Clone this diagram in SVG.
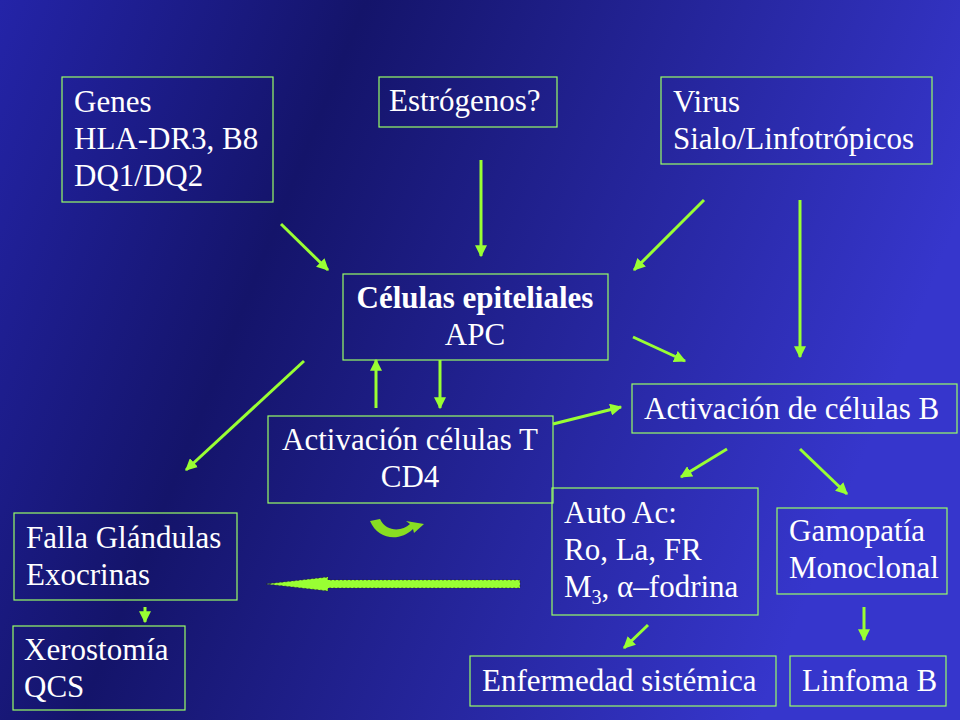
<svg xmlns="http://www.w3.org/2000/svg" width="960" height="720" viewBox="0 0 960 720">
<defs>
<linearGradient id="bg" x1="0" y1="0" x2="1" y2="0.3">
<stop offset="0" stop-color="#2424a8"/>
<stop offset="0.35" stop-color="#14146a"/>
<stop offset="1" stop-color="#3636cc"/>
</linearGradient>
<marker id="ah" viewBox="0 0 10 10" refX="9" refY="5" markerWidth="4" markerHeight="4" orient="auto"><path d="M0,0 L10,5 L0,10 z" fill="#99ff33"/></marker>
</defs>
<style>
.b{fill:none;stroke:#99ff66;stroke-width:1.2}
text{font-family:"Liberation Serif","Times New Roman",serif;font-size:31px;fill:#ffffff}
.c{text-anchor:middle}
.a{stroke:#99ff33;stroke-width:3;fill:none;marker-end:url(#ah)}
</style>
<rect width="960" height="720" fill="url(#bg)"/>
<g id="genes"><rect class="b" x="62" y="77" width="211" height="125"/><text x="74" y="112">Genes</text><text x="74" y="149">HLA-DR3, B8</text><text x="74" y="186">DQ1/DQ2</text></g>
<g id="estrogenos"><rect class="b" x="379" y="77" width="178" height="50"/><text x="389" y="111">Estrógenos?</text></g>
<g id="virus"><rect class="b" x="661" y="77" width="271" height="87"/><text x="673" y="112">Virus</text><text x="673" y="149">Sialo/Linfotrópicos</text></g>
<g id="celulas"><rect class="b" x="343" y="274" width="265" height="86"/><text class="c" x="475" y="308" font-weight="bold">Células epiteliales</text><text class="c" x="475" y="345">APC</text></g>
<g id="actB"><rect class="b" x="632" y="384" width="325" height="49"/><text x="644" y="419">Activación de células B</text></g>
<g id="actT"><rect class="b" x="268" y="416" width="285" height="87"/><text class="c" x="410" y="450">Activación células T</text><text class="c" x="410" y="487">CD4</text></g>
<g id="falla"><rect class="b" x="14" y="513" width="223" height="87"/><text x="26" y="548">Falla Glándulas</text><text x="26" y="585">Exocrinas</text></g>
<g id="autoac"><rect class="b" x="552" y="488" width="206" height="127"/><text x="564" y="523">Auto Ac:</text><text x="564" y="560">Ro, La, FR</text><text x="564" y="597">M<tspan font-size="20" dy="7">3</tspan><tspan dy="-7">, α–fodrina</tspan></text></g>
<g id="gamopatia"><rect class="b" x="777" y="508" width="170" height="86"/><text x="789" y="541">Gamopatía</text><text x="789" y="578">Monoclonal</text></g>
<g id="xero"><rect class="b" x="13" y="626" width="172" height="84"/><text x="24" y="660">Xerostomía</text><text x="24" y="697">QCS</text></g>
<g id="enf"><rect class="b" x="470" y="656" width="306" height="50"/><text x="482" y="691">Enfermedad sistémica</text></g>
<g id="linfoma"><rect class="b" x="790" y="656" width="156" height="50"/><text x="802" y="691">Linfoma B</text></g>
<g id="connectors">
<line class="a" x1="281" y1="224" x2="328" y2="270"/>
<line class="a" x1="481" y1="160" x2="481" y2="256"/>
<line class="a" x1="704" y1="200" x2="634" y2="270"/>
<line class="a" x1="800" y1="200" x2="800" y2="357"/>
<line class="a" x1="633" y1="337" x2="685" y2="361"/>
<line class="a" x1="304" y1="361" x2="186" y2="470"/>
<line class="a" x1="376" y1="408" x2="376" y2="360"/>
<line class="a" x1="440" y1="360" x2="440" y2="408"/>
<line class="a" x1="553" y1="424" x2="621" y2="407"/>
<line class="a" x1="727" y1="449" x2="681" y2="477"/>
<line class="a" x1="800" y1="449" x2="847" y2="494"/>
<line class="a" x1="145" y1="607" x2="145" y2="622"/>
<line class="a" x1="648" y1="625" x2="624" y2="648"/>
<line class="a" x1="864" y1="607" x2="864" y2="640"/>
<path d="M520,580 L328,580 L328,577 L266,584 L328,591 L328,588 L520,588 z" fill="#99ff33" stroke="#222" stroke-width="0.6" stroke-dasharray="2,2"/>
<path d="M370,521 L380,519 C386,532 402,532 410,524 L406,521 L424,524 L414,533 L413,529 C400,542 378,540 370,521 z" fill="#88dd22"/>
</g>
</svg>
